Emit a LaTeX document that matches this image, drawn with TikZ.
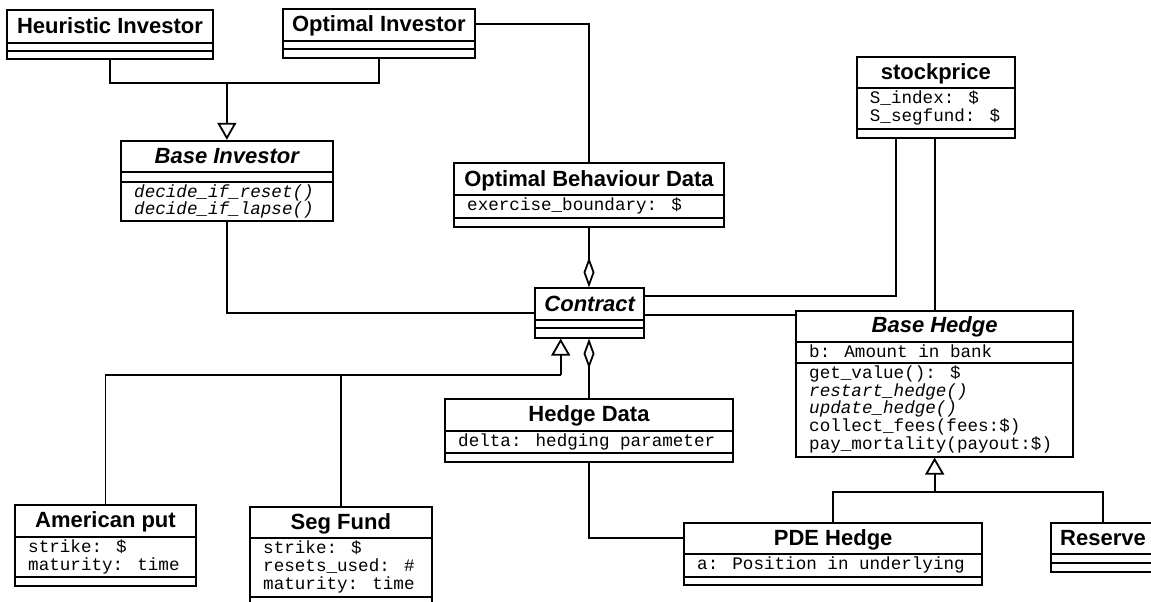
\documentclass[tikz,border=0pt]{standalone}
\usepackage{fontspec}
\newfontfamily\headfont{Liberation Sans}
\newfontfamily\codefont{Liberation Mono}
\usetikzlibrary{arrows.meta,fit}

% a class box: name, x1, y1, x2, y2, rule under the title, rule under the attributes
\newcommand\umlclass[7]{%
  \node[box, fit={(#2,#3)(#4,#5)}] (#1) {};
  \draw[rule] (#2,#6) -- (#4,#6);
  \draw[rule] (#2,#7) -- (#4,#7);
}

\tikzset{
  box/.style={draw, line width=1.8pt, inner sep=0pt},
  rule/.style={line width=1.8pt},
  cname/.style={font=\headfont\bfseries\fontsize{22}{26}\selectfont, inner sep=0pt, anchor=base},
  aname/.style={font=\headfont\bfseries\itshape\fontsize{22}{26}\selectfont, inner sep=0pt, anchor=base},
  member/.style={font=\codefont\fontsize{17.6}{17.6}\selectfont, inner sep=0pt, anchor=base west},
  vmember/.style={font=\codefont\itshape\fontsize{17.6}{17.6}\selectfont, inner sep=0pt, anchor=base west},
  link/.style={line width=1.8pt},
  inherit/.style={link, -{Triangle[open, length=17pt, width=19pt]}},
  partof/.style={link, -{Diamond[open, length=30pt, width=11pt]}},
}

\begin{document}
\begin{tikzpicture}[x=1pt, y=-1pt]
\useasboundingbox (0,0) rectangle (1151,602);
\clip (0,0) rectangle (1151,602);

% ---- investors ----
\umlclass{hi}{7}{10}{213}{59}{43}{51}
\node[cname] (hi-t) at (110,34) {Heuristic Investor};

\umlclass{oi}{282.7}{9}{475}{57.7}{40.7}{49}
\node[cname] (oi-t) at (378.85,31.7) {Optimal Investor};

\umlclass{bi}{121}{140.7}{332.7}{220.7}{172}{181.7}
\node[aname] (bi-t) at (226.85,163) {Base Investor};
\node[vmember] (bi-o1) at (134,197) {decide\_if\_reset()};
\node[vmember] (bi-o2) at (134,214.6) {decide\_if\_lapse()};

\umlclass{obd}{454}{163}{724}{226.7}{195}{218.3}
\node[cname] (obd-t) at (589,186) {Optimal Behaviour Data};
\node[member] (obd-a1) at (467,210.3) {exercise\_boundary: \$};

% ---- market ----
\umlclass{sp}{856.7}{57.3}{1015}{137.7}{88.3}{129.3}
\node[cname] (sp-t) at (935.85,79.3) {stockprice};
\node[member] (sp-a1) at (869.7,103.6) {S\_index: \$};
\node[member] (sp-a2) at (869.7,121.2) {S\_segfund: \$};

% ---- contracts ----
\umlclass{ct}{535}{288.3}{644.3}{337.7}{320}{328.3}
\node[aname] (ct-t) at (589.65,311) {Contract};

\umlclass{ap}{15}{505}{196}{586}{536.7}{576.7}
\node[cname] (ap-t) at (105.5,527.7) {American put};
\node[member] (ap-a1) at (28,552.7) {strike: \$};
\node[member] (ap-a2) at (28,570.3) {maturity: time};

\umlclass{sf}{250}{507.3}{431.7}{612}{538.3}{596.7}
\node[cname] (sf-t) at (340.85,529.3) {Seg Fund};
\node[member] (sf-a1) at (263,553.8) {strike: \$};
\node[member] (sf-a2) at (263,571.4) {resets\_used: \#};
\node[member] (sf-a3) at (263,589) {maturity: time};

% ---- hedging ----
\umlclass{hd}{445}{399.3}{733}{461.7}{430.7}{453.3}
\node[cname] (hd-t) at (589,421.7) {Hedge Data};
\node[member] (hd-a1) at (458,446) {delta: hedging parameter};

\umlclass{bh}{796}{310.7}{1073.3}{456.7}{341.7}{363.3}
\node[aname] (bh-t) at (934.65,332.7) {Base Hedge};
\node[member] (bh-a1) at (809,357) {b: Amount in bank};
\node[member] (bh-o1) at (809,378.6) {get\_value(): \$};
\node[vmember] (bh-o2) at (809,396.2) {restart\_hedge()};
\node[vmember] (bh-o3) at (809,413.8) {update\_hedge()};
\node[member] (bh-o4) at (809,431.4) {collect\_fees(fees:\$)};
\node[member] (bh-o5) at (809,449) {pay\_mortality(payout:\$)};

\umlclass{pde}{684}{522.7}{982.3}{585}{554}{576.7}
\node[cname] (pde-t) at (833.15,545) {PDE Hedge};
\node[member] (pde-a1) at (697,569.5) {a: Position in underlying};

\umlclass{reserve}{1051}{522.7}{1155}{571.7}{554.3}{563.3}
\node[cname] (reserve-t) at (1103,545.3) {Reserve};

% ---- connectors ----
\coordinate (j1) at (bi.north |- 0,83);
\draw[link] (hi.south) |- (j1) -| (oi.south);
\draw[inherit] (j1) -- (bi.north);

\draw[link] ([yshift=9.3pt]oi.east) -| (obd.north);
\draw[partof] (obd.south) -- (obd.south |- ct.north);
\draw[link] (bi.south) |- (ct.west);

\coordinate (spl) at ([xshift=40pt]sp.south west);
\coordinate (spr) at ([xshift=79pt]sp.south west);
\draw[link] (spl) |- (ct.east |- 0,296);
\draw[link] (spr) -- (spr |- bh.north);
\draw[link] (ct.east |- 0,315) -- (bh.west |- 0,315);

\coordinate (j2) at (560.7,375);
\draw[inherit] (j2) -- (j2 |- ct.south);
\draw[link] (ap.north) |- (j2);
\draw[link] (sf.north) -- (sf.north |- j2);

\draw[partof] (hd.north) -- (hd.north |- ct.south);
\draw[link] (hd.south) |- (pde.west |- 0,538);

\coordinate (j3) at (bh.south |- 0,492.3);
\draw[inherit] (j3) -- (bh.south);
\draw[link] (pde.north) |- (j3) -| (reserve.north);
\end{tikzpicture}
\end{document}
